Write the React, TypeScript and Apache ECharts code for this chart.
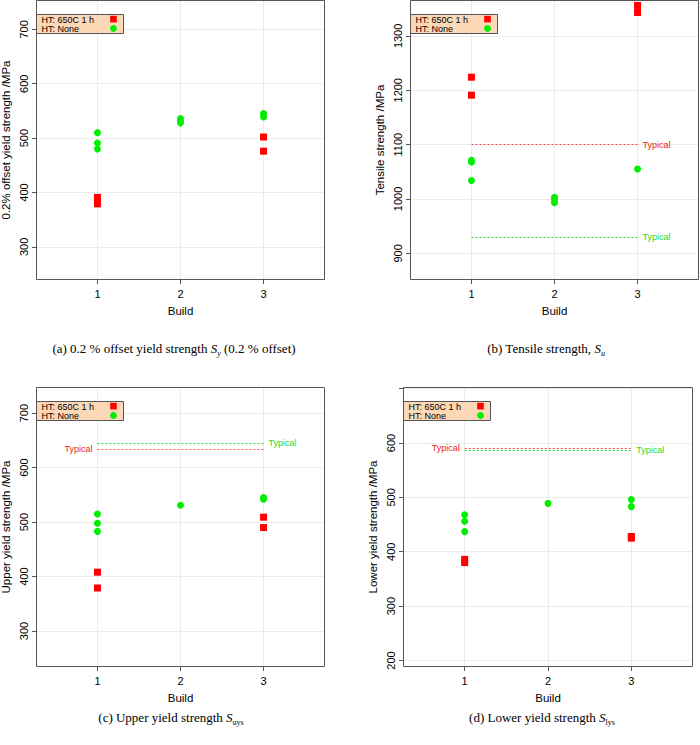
import React, { useEffect, useRef } from "react";
import * as echarts from "echarts";

// ---------- data ----------
const buildTicks = [1, 2, 3];
const legendNames = ["HT: 650C 1 h", "HT: None"];
const typicalText = "Typical";
const xName = "Build";

// (a) 0.2 % offset yield strength
const aYName = "0.2% offset yield strength /MPa";
const aHeatBuild = [1, 1, 1, 3, 3];
const aHeatValue = [391, 385, 379, 502, 476];
const aNoneBuild = [1, 1, 1, 2, 2, 2, 3, 3];
const aNoneValue = [510, 491, 480, 536, 531, 528, 545, 539];
const aTicks = [300, 400, 500, 600, 700];
const aLabels = [300, 400, 500, 600, 700];

// (b) Tensile strength
const bYName = "Tensile strength /MPa";
const bHeatBuild = [1, 1, 3, 3];
const bHeatValue = [1224, 1191, 1356, 1343];
const bNoneBuild = [1, 1, 1, 2, 2, 2, 3];
const bNoneValue = [1071, 1068, 1034, 1003, 998, 993, 1055];
const bTypical = [1100, 930]; // [HT 650C, HT None]
const bTicks = [900, 1000, 1100, 1200, 1300];
const bLabels = [900, 1000, 1100, 1200, 1300];

// (c) Upper yield strength
const cYName = "Upper yield strength /MPa";
const cHeatBuild = [1, 1, 3, 3];
const cHeatValue = [408, 379, 509, 490];
const cNoneBuild = [1, 1, 1, 2, 3, 3];
const cNoneValue = [515, 498, 483, 531, 545, 542];
const cTypical = [634, 645];
const cTicks = [300, 400, 500, 600, 700];
const cLabels = [300, 400, 500, 600, 700];

// (d) Lower yield strength
const dYName = "Lower yield strength /MPa";
const dHeatBuild = [1, 1, 3, 3];
const dHeatValue = [386, 380, 428, 425];
const dNoneBuild = [1, 1, 1, 2, 3, 3];
const dNoneValue = [468, 456, 437, 489, 496, 483];
const dTypical = [591, 587];
const dTicks = [200, 300, 400, 500, 600, 700];
const dLabels = [200, 300, 400, 500, 600];

const captions = [
  "{n|(a) 0.2 % offset yield strength }{i|S}{si|y}{n| (0.2 % offset)}",
  "{n|(b) Tensile strength, }{i|S}{si|u}",
  "{n|(c) Upper yield strength }{i|S}{s|uys}",
  "{n|(d) Lower yield strength }{i|S}{s|lys}",
];

// ---------- styling / layout ----------
const SANS = "'Liberation Sans', Arial, Helvetica, sans-serif";
const SERIF = "'Liberation Serif', 'Times New Roman', serif";
const RED = "#ff0000";
const GREEN = "#00ee00";
const FRAME = "#555555";
const GRIDC = "#ebebeb";

const panels = [
  { yName: aYName, hx: aHeatBuild, hy: aHeatValue, nx: aNoneBuild, ny: aNoneValue, typ: null as number[] | null, heatSide: "right", ticks: aTicks, labels: aLabels },
  { yName: bYName, hx: bHeatBuild, hy: bHeatValue, nx: bNoneBuild, ny: bNoneValue, typ: bTypical, heatSide: "right", ticks: bTicks, labels: bLabels },
  { yName: cYName, hx: cHeatBuild, hy: cHeatValue, nx: cNoneBuild, ny: cNoneValue, typ: cTypical, heatSide: "left", ticks: cTicks, labels: cLabels },
  { yName: dYName, hx: dHeatBuild, hy: dHeatValue, nx: dNoneBuild, ny: dNoneValue, typ: dTypical, heatSide: "left", ticks: dTicks, labels: dLabels },
];

const layout = [
  { left: 36, top: 0, width: 289, height: 280, min: 239, max: 754, capX: 174, capY: 348 },
  { left: 410, top: 0, width: 289, height: 280, min: 851, max: 1366, capX: 546, capY: 348 },
  { left: 36, top: 387, width: 289, height: 280, min: 234, max: 748, capX: 171, capY: 717 },
  { left: 403, top: 387, width: 290, height: 280, min: 188, max: 703, capX: 542, capY: 717 },
];

function zip(xs: number[], ys: number[]) {
  return xs.map((x, i) => [x, ys[i]]);
}

function typicalLine(v: number, color: string, textColor: string, side: string) {
  return {
    silent: true,
    animation: false,
    symbol: ["none", "none"],
    itemStyle: { color },
    lineStyle: { type: [2, 2], width: 1, color, opacity: 1 },
    label: {
      show: true,
      position: side === "left" ? "start" : "end",
      formatter: typicalText,
      color: textColor,
      fontSize: 9,
      fontFamily: SANS,
      distance: 5,
    },
    emphasis: { disabled: true },
    data: [[{ coord: [buildTicks[0], v] }, { coord: [buildTicks[2], v] }]],
  };
}

const fmt = (v: number) => String(v);

function buildOption() {
  const grid: any[] = [];
  const xAxis: any[] = [];
  const yAxis: any[] = [];
  const series: any[] = [];
  const graphic: any[] = [];

  panels.forEach((p, i) => {
    const L = layout[i];
    grid.push({
      left: L.left,
      top: L.top,
      width: L.width,
      height: L.height,
      containLabel: false,
      outerBoundsMode: "none",
    });
    xAxis.push({
      type: "value",
      gridIndex: i,
      min: 0.26,
      max: 3.74,
      splitNumber: 7,
      axisLine: { show: false },
      axisTick: { show: true, length: 4, customValues: buildTicks, lineStyle: { color: FRAME } },
      axisLabel: { customValues: buildTicks, formatter: fmt, fontSize: 11, color: "#000", margin: 8, fontFamily: SANS },
      splitLine: { show: true, lineStyle: { color: GRIDC, width: 1 } },
      name: xName,
      nameLocation: "middle",
      nameGap: 25,
      nameTextStyle: { fontSize: 11.5, color: "#000", fontFamily: SANS },
    });
    yAxis.push({
      type: "value",
      gridIndex: i,
      min: L.min,
      max: L.max,
      splitNumber: 5,
      axisLine: { show: false },
      axisTick: { show: true, length: 4, customValues: p.ticks, lineStyle: { color: FRAME } },
      axisLabel: { customValues: p.labels, formatter: fmt, rotate: 90, fontSize: 11, color: "#000", margin: 7, fontFamily: SANS },
      splitLine: { show: true, lineStyle: { color: GRIDC, width: 1 } },
      name: p.yName,
      nameLocation: "middle",
      nameRotate: 90,
      nameGap: 24,
      nameTextStyle: { fontSize: 11.5, color: "#000", fontFamily: SANS },
    });
    const heat: any = {
      type: "scatter",
      name: legendNames[0],
      xAxisIndex: i,
      yAxisIndex: i,
      symbol: "rect",
      symbolSize: 7,
      color: RED,
      itemStyle: { color: RED, opacity: 1 },
      data: zip(p.hx, p.hy),
      z: 3,
    };
    const none: any = {
      type: "scatter",
      name: legendNames[1],
      xAxisIndex: i,
      yAxisIndex: i,
      symbol: "circle",
      symbolSize: 7,
      color: GREEN,
      itemStyle: { color: GREEN, opacity: 1 },
      data: zip(p.nx, p.ny),
      z: 3,
    };
    if (p.typ) {
      heat.markLine = typicalLine(p.typ[0], "#ff4a4a", "#ee2222", p.heatSide);
      none.markLine = typicalLine(p.typ[1], "#22dd22", "#22dd22", "right");
    }
    series.push(heat, none);

    // frame
    graphic.push({
      type: "rect",
      z: 100,
      silent: true,
      shape: { x: L.left + 0.5, y: L.top + 0.5, width: L.width - 1, height: L.height - 1 },
      style: { fill: "none", stroke: FRAME, lineWidth: 1 },
    });
    // legend key
    const gx = L.left;
    const gy = L.top + 14;
    graphic.push(
      { type: "rect", z: 110, silent: true, shape: { x: gx + 0.5, y: gy + 0.5, width: 87, height: 19 }, style: { fill: "#fdd8b6", stroke: FRAME, lineWidth: 1 } },
      { type: "text", z: 111, silent: true, x: gx + 5.5, y: gy + 5.5, style: { text: legendNames[0], fontSize: 9, fontFamily: SANS, fill: "#000", verticalAlign: "middle", textVerticalAlign: "middle" } },
      { type: "text", z: 111, silent: true, x: gx + 5.5, y: gy + 14.6, style: { text: legendNames[1], fontSize: 9, fontFamily: SANS, fill: "#000", verticalAlign: "middle", textVerticalAlign: "middle" } },
      { type: "rect", z: 111, silent: true, shape: { x: gx + 74.2, y: gy + 1.8, width: 6.6, height: 6.6 }, style: { fill: RED } },
      { type: "circle", z: 111, silent: true, shape: { cx: gx + 77.5, cy: gy + 14.5, r: 3.4 }, style: { fill: GREEN } }
    );
    // caption
    graphic.push({
      type: "text",
      x: L.capX,
      y: L.capY,
      z: 110,
      silent: true,
      style: {
        text: captions[i],
        align: "center",
        verticalAlign: "middle",
        textAlign: "center",
        textVerticalAlign: "middle",
        rich: {
          n: { fontFamily: SERIF, fontSize: 13, lineHeight: 18, fill: "#000" },
          i: { fontFamily: SERIF, fontSize: 13, lineHeight: 18, fontStyle: "italic", fill: "#000" },
          si: { fontFamily: SERIF, fontSize: 8, lineHeight: 9, fontStyle: "italic", verticalAlign: "bottom", fill: "#000" },
          s: { fontFamily: SERIF, fontSize: 8, lineHeight: 9, verticalAlign: "bottom", fill: "#000" },
        },
      },
    });
  });

  return {
    animation: false,
    backgroundColor: "#ffffff",
    textStyle: { fontFamily: SANS },
    grid,
    xAxis,
    yAxis,
    series,
    graphic,
  };
}

export default function App() {
  const ref = useRef<HTMLDivElement>(null);
  useEffect(() => {
    if (!ref.current) return;
    const chart = echarts.init(ref.current, null, { renderer: "svg" });
    chart.setOption(buildOption() as any);
    return () => chart.dispose();
  }, []);
  return (
    <div
      ref={ref}
      style={{ position: "absolute", left: 0, top: 0, width: 700, height: 745, background: "#fff" }}
    />
  );
}
